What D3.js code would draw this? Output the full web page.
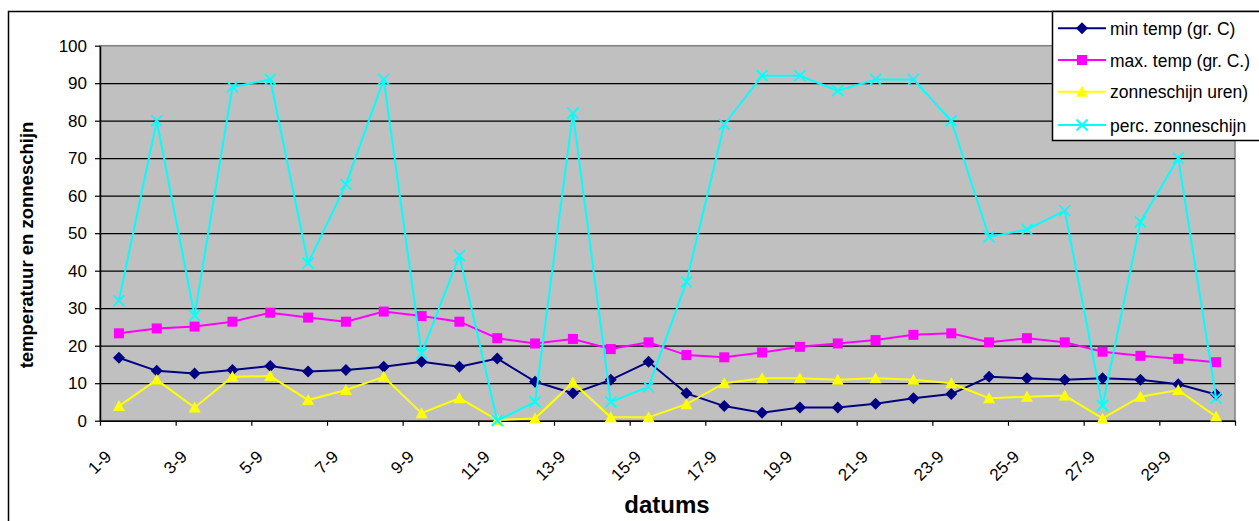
<!DOCTYPE html>
<html>
<head>
<meta charset="utf-8">
<script src="https://cdn.jsdelivr.net/npm/d3@7/dist/d3.min.js"></script>
<style>
  html, body { margin: 0; padding: 0; background: #fff; }
  svg { display: block; font-family: Arial, "Liberation Sans", sans-serif; }
</style>
</head>
<body>
<svg id="chart" width="1259" height="521"></svg>
<script>
// ---- data ----
const categories = ["1-9","2-9","3-9","4-9","5-9","6-9","7-9","8-9","9-9","10-9",
  "11-9","12-9","13-9","14-9","15-9","16-9","17-9","18-9","19-9","20-9",
  "21-9","22-9","23-9","24-9","25-9","26-9","27-9","28-9","29-9","30-9"];
const minTemp = [16.8,13.3,12.6,13.5,14.6,13.1,13.5,14.4,15.7,14.4,16.6,10.4,7.3,10.9,15.7,7.3,3.9,2.1,3.5,3.5,4.5,6.0,7.1,11.7,11.3,10.9,11.3,10.9,9.7,7.0];
const maxTemp = [23.3,24.6,25.1,26.4,28.8,27.5,26.4,29.1,27.9,26.4,22.0,20.6,21.8,19.1,20.9,17.5,16.9,18.2,19.7,20.6,21.5,22.9,23.3,20.9,22.0,20.9,18.4,17.3,16.5,15.6];
const zonUren = [3.9,10.9,3.5,11.7,11.9,5.5,8.2,11.7,2.0,6.0,0.2,0.6,10.2,0.9,0.9,4.4,10.0,11.3,11.3,10.9,11.3,10.9,10.0,6.0,6.4,6.7,0.6,6.4,8.2,1.1];
const percZon = [32,80,28,89,91,42,63,91,18,44,0,5,82,5,9,37,79,92,92,88,91,91,80,49,51,56,4,53,70,6];
const seriesNames = ["min temp (gr. C)","max. temp (gr. C.)","zonneschijn uren)","perc. zonneschijn"];
const yTicks = [0,10,20,30,40,50,60,70,80,90,100];
const xTitle = "datums";
const yTitle = "temperatuur en zonneschijn";

// ---- layout ----
const svg = d3.select("#chart");
const L = 100, R = 1235, T = 45.7, B = 420.7;

svg.append("rect").attr("x", 8.5).attr("y", 11.5).attr("width", 1400).attr("height", 700)
  .attr("fill", "#fff").attr("stroke", "#000").attr("stroke-width", 1.5);

const x = d3.scaleBand().domain(categories).range([L, R]).padding(0);
const xi = d3.scaleLinear().domain([0, categories.length]).range([L, R]);
const y = d3.scaleLinear().domain([0, 100]).range([B, T]);

// plot background
svg.append("rect").attr("x", L).attr("y", T).attr("width", R - L).attr("height", B - T)
  .attr("fill", "#C0C0C0").attr("stroke", "#808080").attr("stroke-width", 1.5);

// gridlines
svg.append("g").attr("transform", `translate(${L},0)`)
  .call(d3.axisLeft(y).tickValues(yTicks.slice(1, -1)).tickSize(-(R - L)).tickFormat(""))
  .call(g => g.select(".domain").remove())
  .call(g => g.selectAll("line").attr("stroke", "#000").attr("stroke-width", 1.2));

// y axis
const yAx = svg.append("g").attr("transform", `translate(${L},0)`)
  .call(d3.axisLeft(y).tickValues(yTicks).tickSize(5).tickPadding(8).tickSizeOuter(0));
yAx.select(".domain").attr("stroke", "#000").attr("stroke-width", 1.5);
yAx.selectAll("line").attr("stroke", "#000").attr("stroke-width", 1.2);
yAx.selectAll("text").attr("font-size", 17).attr("fill", "#000")
  .attr("font-family", "Arial, 'Liberation Sans', sans-serif");

// x axis
const xTickIdx = d3.range(0, categories.length + 1, 2);
const xAx = svg.append("g").attr("transform", `translate(0,${B})`)
  .call(d3.axisBottom(xi).tickValues(xTickIdx).tickSize(5).tickSizeOuter(0)
    .tickFormat(i => i < categories.length ? categories[i] : ""));
xAx.select(".domain").attr("stroke", "#000").attr("stroke-width", 1.5);
xAx.selectAll("line").attr("stroke", "#000").attr("stroke-width", 1.2);
xAx.selectAll("text")
  .attr("font-size", 17).attr("fill", "#000")
  .attr("font-family", "Arial, 'Liberation Sans', sans-serif")
  .attr("text-anchor", "end").attr("dy", null).attr("y", null)
  .attr("transform", "translate(12,37) rotate(-45)");

// axis titles
svg.append("text").attr("x", 667).attr("y", 513).attr("text-anchor", "middle")
  .attr("font-size", 24).attr("font-weight", "bold").attr("fill", "#000").text(xTitle);
svg.append("text").attr("transform", "translate(33,245) rotate(-90)").attr("text-anchor", "middle")
  .attr("font-size", 18.5).attr("font-weight", "bold").attr("fill", "#000").text(yTitle);

// series
const colors = ["#000080", "#FF00FF", "#FFFF00", "#00FFFF"];
const data = [minTemp, maxTemp, zonUren, percZon];
const cx = i => x(categories[i]) + x.bandwidth() / 2;

function marker(g, type, color) {
  if (type === 0) {
    g.append("path").attr("d", "M0,-6L6,0L0,6L-6,0Z").attr("fill", color);
  } else if (type === 1) {
    g.append("rect").attr("x", -5).attr("y", -5).attr("width", 10).attr("height", 10).attr("fill", color);
  } else if (type === 2) {
    g.append("path").attr("d", "M0,-6L6,5L-6,5Z").attr("fill", color);
  } else {
    g.append("path").attr("d", "M-5.5,-5.5L5.5,5.5M-5.5,5.5L5.5,-5.5")
      .attr("stroke", color).attr("stroke-width", 1.8).attr("fill", "none");
  }
}

const line = d3.line().x((d, i) => cx(i)).y(d => y(d));
data.forEach((vals, s) => {
  const g = svg.append("g");
  g.append("path").datum(vals).attr("d", line).attr("fill", "none")
    .attr("stroke", colors[s]).attr("stroke-width", 2);
  vals.forEach((v, i) => {
    const m = g.append("g").attr("transform", `translate(${cx(i)},${y(v)})`);
    marker(m, s, colors[s]);
  });
});

// legend
const lg = svg.append("g");
lg.append("rect").attr("x", 1052.5).attr("y", 11.5).attr("width", 400).attr("height", 129)
  .attr("fill", "#fff").attr("stroke", "#000").attr("stroke-width", 1.5);
const legY = [28.3, 60, 91.7, 125];
seriesNames.forEach((name, s) => {
  const gy = legY[s];
  lg.append("line").attr("x1", 1058).attr("x2", 1106).attr("y1", gy).attr("y2", gy)
    .attr("stroke", colors[s]).attr("stroke-width", 2);
  const m = lg.append("g").attr("transform", `translate(1082,${gy})`);
  marker(m, s, colors[s]);
  lg.append("text").attr("x", 1110).attr("y", gy + 6.5).attr("font-size", 17.5)
    .attr("fill", "#000").text(name);
});
</script>
</body>
</html>
